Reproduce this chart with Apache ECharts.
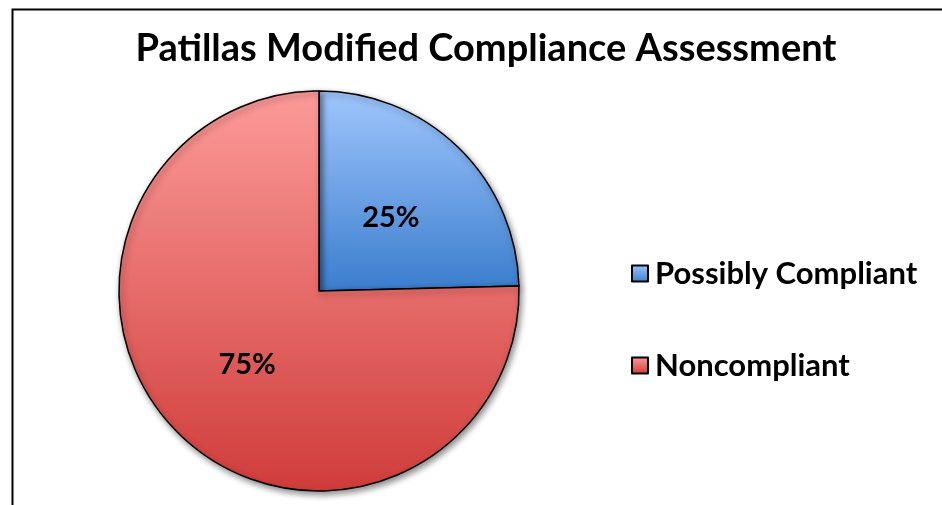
<!DOCTYPE html>
<html>
<head>
<meta charset="utf-8">
<script src="https://cdn.jsdelivr.net/npm/echarts@6/dist/echarts.min.js"></script>
<style>
  html, body { margin: 0; padding: 0; background: #fff; }
  #chart { width: 942px; height: 505px; }
</style>
</head>
<body>
<div id="chart"></div>
<script>
// 数据
var categories = ['Possibly Compliant', 'Noncompliant'];
var values = [24.6, 75.4];
var topColors = ['#a0c6fc', '#fc9b99'];
var bottomColors = ['#3a7dcd', '#cf3c3a'];

var chart = echarts.init(document.getElementById('chart'));

var pieData = categories.map(function (name, i) {
  return {
    name: name,
    value: values[i],
    itemStyle: {
      color: new echarts.graphic.LinearGradient(0, 0, 0, 1, [
        { offset: 0, color: topColors[i] },
        { offset: 1, color: bottomColors[i] }
      ])
    }
  };
});

var option = {
  backgroundColor: '#fff',
  animation: false,
  // 外框
  graphic: [{
    type: 'rect',
    left: 10,
    top: 7,
    shape: { width: 1000, height: 1000 },
    style: { fill: 'none', stroke: '#000', lineWidth: 2 },
    z: 100
  }],
  title: {
    text: 'Patillas Modified Compliance Assessment',
    left: 481,
    textAlign: 'center',
    top: 25,
    textStyle: {
      fontFamily: 'Lato',
      fontWeight: 'bold',
      fontSize: 38,
      color: '#000'
    }
  },
  legend: {
    orient: 'vertical',
    left: 626,
    top: 253,
    itemGap: 61,
    itemWidth: 16,
    itemHeight: 16,
    icon: 'rect',
    data: categories,
    textStyle: {
      fontFamily: 'Lato',
      fontWeight: 'bold',
      fontSize: 31,
      color: '#000',
      padding: [0, 0, 0, 2]
    }
  },
  series: [{
    type: 'pie',
    radius: 200,
    center: [319, 291],
    startAngle: 90,
    clockwise: true,
    label: {
      position: 'inside',
      formatter: function (p) { return Math.round(p.percent) + '%'; },
      fontFamily: 'Lato',
      fontWeight: 'bold',
      fontSize: 29,
      color: '#000'
    },
    labelLine: { show: false },
    itemStyle: {
      borderColor: '#000',
      borderWidth: 1.5,
      shadowBlur: 6,
      shadowOffsetX: 2,
      shadowOffsetY: 3,
      shadowColor: 'rgba(0,0,0,0.45)'
    },
    emphasis: { disabled: true },
    data: pieData
  }]
};

chart.setOption(option);
</script>
</body>
</html>
